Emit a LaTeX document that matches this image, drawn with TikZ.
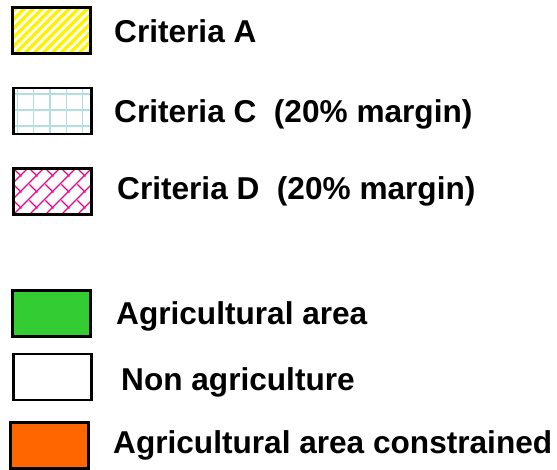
\documentclass[tikz,border=0pt]{standalone}
\usepackage{fontspec}
\setmainfont{Liberation Sans}
\usepackage{xcolor}
\usepackage{tikz}

\definecolor{gridblue}{RGB}{176,222,228}
\definecolor{agrigreen}{RGB}{51,204,51}
\definecolor{agriorange}{RGB}{255,102,0}

\tikzset{
  swatch/.style={draw=black, line width=2.5pt, minimum width=78pt, minimum height=46pt, inner sep=0pt},
  legtext/.style={anchor=base west, inner sep=0pt, font=\bfseries\fontsize{31.6}{36}\selectfont},
  hatchA/.style={path picture={
      \foreach \k in {-60,-51,...,90}
        \draw[yellow, line width=3.4pt] ([xshift=\k pt]path picture bounding box.south west) -- ++(60pt,60pt);
    }},
  gridC/.style={path picture={
      \foreach \k in {4,20.3,...,90}
        \draw[gridblue, line width=1.3pt] ([xshift=\k pt]path picture bounding box.south west) -- ++(0pt,60pt);
      \foreach \k in {8,24,...,60}
        \draw[gridblue, line width=1.3pt] ([yshift=\k pt]path picture bounding box.south west) -- ++(90pt,0pt);
    }},
  hatchD/.style={path picture={
      \foreach \k in {-64,-48,...,90}{
        \draw[magenta, line width=1.4pt] ([xshift=\k pt]path picture bounding box.south west) -- ++(60pt,60pt);
        \draw[magenta, line width=1.4pt, dash pattern=on 11.3pt off 11.3pt] ([xshift=\k pt]path picture bounding box.north west) -- ++(60pt,-60pt);
      }
    }},
}

\begin{document}
\begin{tikzpicture}[x=1pt, y=-1pt]
    \useasboundingbox (0,0) rectangle (557,470);

    % patterned criteria
    \node[swatch, hatchA] (critA) at (51.5,30.5) {};
    \node[legtext] (labA) at (114,43) {Criteria A};

    \node[swatch, gridC] (critC) at (52.5,111) {};
    \node[legtext] (labC) at (114,123) {Criteria C\ \ (20\% margin)};

    \node[swatch, hatchD] (critD) at (52.5,191.5) {};
    \node[legtext] (labD) at (117,200) {Criteria D\ \ (20\% margin)};

    % land use
    \node[swatch, fill=agrigreen] (agri) at (51.5,313.5) {};
    \node[legtext] (labAgri) at (116,325) {Agricultural area};

    \node[swatch, fill=white] (nonagri) at (52.5,377) {};
    \node[legtext] (labNon) at (121,390) {Non agriculture};

    \node[swatch, fill=agriorange] (constr) at (49.5,445.5) {};
    \node[legtext] (labConstr) at (113,453) {Agricultural area constrained};
\end{tikzpicture}
\end{document}
